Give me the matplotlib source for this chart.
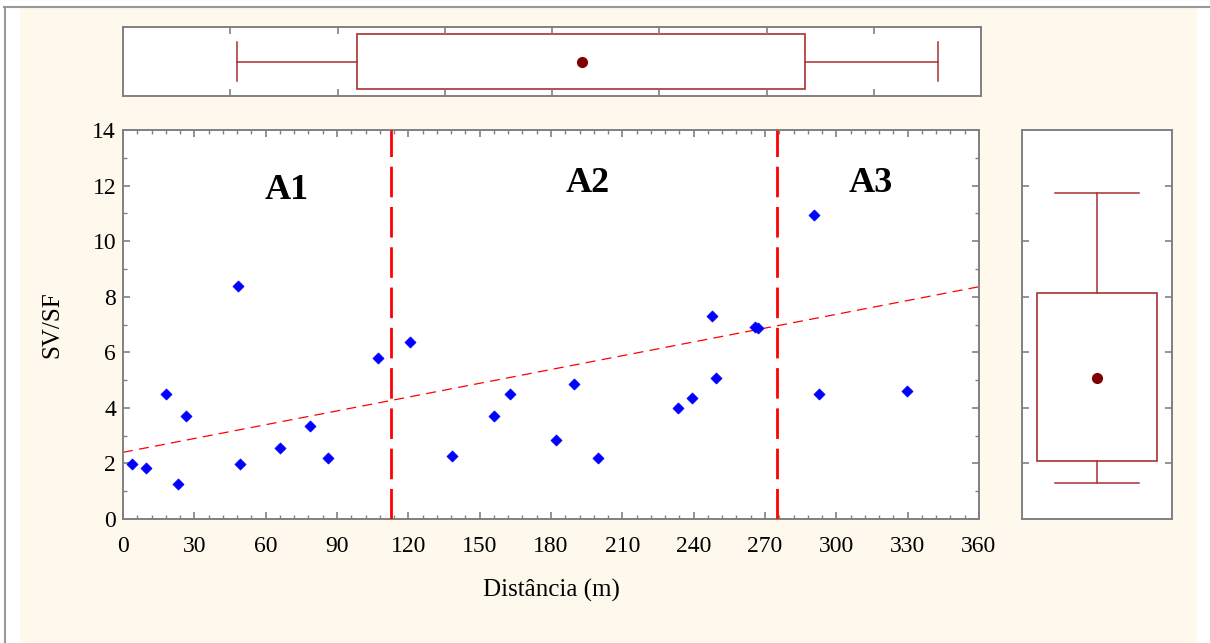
import matplotlib
matplotlib.use("Agg")
import matplotlib.pyplot as plt
from matplotlib.patches import Rectangle
from matplotlib.lines import Line2D
from matplotlib.ticker import MultipleLocator

# ---- data ----
dist = [3.6, 9.5, 18.0, 23.0, 26.4, 48.3, 49.1, 66.0, 78.6, 86.2, 107.2,
        120.7, 138.4, 156.1, 162.8, 182.2, 189.8, 199.9, 233.6, 239.5,
        247.9, 249.6, 265.8, 267.2, 290.8, 292.5, 329.6]
svsf = [1.99, 1.85, 4.51, 1.27, 3.72, 8.40, 1.99, 2.57, 3.36, 2.21, 5.80,
        6.38, 2.28, 3.72, 4.51, 2.85, 4.87, 2.21, 4.01, 4.37,
        7.32, 5.08, 6.90, 6.86, 10.93, 4.51, 4.59]
trend_x = [0, 360]
trend_y = [2.40, 8.36]
boundaries = [112.5, 275.0]
zone_labels = ["A1", "A2", "A3"]
zone_label_x = [69, 195.4, 314.5]
zone_label_y = [11.84, 12.09, 12.09]
# box summaries: (low whisker, box low, mean, box high, high whisker)
box_x = [48.0, 98.1, 192.4, 286.3, 341.9]
box_y = [1.28, 2.08, 5.06, 8.14, 11.72]
xticks = list(range(0, 361, 30))
yticks = list(range(0, 15, 2))

W, H = 1210, 643
fig = plt.figure(figsize=(W / 100, H / 100), dpi=100, facecolor="white")
serif = ["Liberation Serif", "DejaVu Serif"]

# background panel + border
fig.patches.append(Rectangle((20 / W, 0), (1197 - 20) / W, (H - 8) / H,
                             transform=fig.transFigure, facecolor="#FEF9EC",
                             edgecolor="none", zorder=-10))
fig.lines.append(Line2D([4 / W, 1], [1 - 7 / H, 1 - 7 / H], transform=fig.transFigure,
                        color="#999999", lw=1.5, zorder=-9))
fig.lines.append(Line2D([5 / W, 5 / W], [0, 1 - 7 / H], transform=fig.transFigure,
                        color="#999999", lw=1.5, zorder=-9))

spine_col = "#808080"
box_col = "#A83232"
mean_col = "#800000"


def style_spines(ax):
    for s in ax.spines.values():
        s.set_color(spine_col)
        s.set_linewidth(1.4)


# ---- main axes ----
ax = fig.add_axes([123 / W, (H - 519) / H, (979 - 123) / W, (519 - 130) / H])
ax.set_facecolor("white")
style_spines(ax)
ax.set_xlim(0, 360)
ax.set_ylim(0, 14)
ax.set_xticks(xticks)
ax.set_yticks(yticks)
ax.xaxis.set_minor_locator(MultipleLocator(6))
ax.yaxis.set_minor_locator(MultipleLocator(1))
ax.tick_params(which="both", direction="in", top=True, right=True, color=spine_col)
ax.tick_params(which="major", length=5, width=1.2, labelsize=17)
ax.tick_params(axis="x", which="major", pad=12)
ax.tick_params(axis="y", which="major", pad=5)
ax.tick_params(which="minor", length=3, width=1.0)
for lab in ax.get_xticklabels() + ax.get_yticklabels():
    lab.set_family(serif)

ax.plot(trend_x, trend_y, color="red", lw=0.9, dashes=(8, 5), zorder=2)
for b in boundaries:
    ax.axvline(b, color="red", lw=2.0, dashes=(11, 3.5), zorder=3)
ax.scatter(dist, svsf, marker="D", s=32, color="blue", edgecolors="blue",
           linewidths=0.5, zorder=4)
for t, x, y in zip(zone_labels, zone_label_x, zone_label_y):
    ax.text(x, y, t, ha="center", va="center", fontsize=26, fontweight="bold",
            family=serif)
ax.set_xlabel("Distância (m)", fontsize=18, family=serif, labelpad=16)
ax.set_ylabel("SV/SF", fontsize=18, family=serif, labelpad=21)

# ---- top box plot ----
axt = fig.add_axes([123 / W, (H - 96) / H, (981 - 123) / W, (96 - 27) / H])
axt.set_facecolor("white")
style_spines(axt)
axt.set_xlim(0, 360)
axt.set_ylim(0, 1)
axt.set_xticks(list(range(45, 360, 45)))
axt.set_yticks([])
axt.tick_params(axis="x", direction="in", top=True, bottom=True, length=5, width=1.2,
                color=spine_col, labelbottom=False)
lo, q1, mn, q3, hi = box_x
axt.add_patch(Rectangle((q1, 0.1), q3 - q1, 0.8, facecolor="none", edgecolor=box_col, lw=1.2))
axt.plot([lo, q1], [0.5, 0.5], color=box_col, lw=1.1)
axt.plot([q3, hi], [0.5, 0.5], color=box_col, lw=1.1)
axt.plot([lo, lo], [0.22, 0.78], color=box_col, lw=1.1)
axt.plot([hi, hi], [0.22, 0.78], color=box_col, lw=1.1)
axt.plot([mn], [0.5], "o", color=mean_col, ms=7)

# ---- right box plot ----
axr = fig.add_axes([1022 / W, (H - 519) / H, (1172 - 1022) / W, (519 - 130) / H])
axr.set_facecolor("white")
style_spines(axr)
axr.set_ylim(0, 14)
axr.set_xlim(0, 1)
axr.set_xticks([])
axr.set_yticks(list(range(2, 13, 2)))
axr.tick_params(axis="y", direction="in", left=True, right=True, length=5, width=1.2,
                color=spine_col, labelleft=False)
lo, q1, mn, q3, hi = box_y
axr.add_patch(Rectangle((0.1, q1), 0.8, q3 - q1, facecolor="none", edgecolor=box_col, lw=1.2))
axr.plot([0.5, 0.5], [lo, q1], color=box_col, lw=1.1)
axr.plot([0.5, 0.5], [q3, hi], color=box_col, lw=1.1)
axr.plot([0.22, 0.78], [lo, lo], color=box_col, lw=1.1)
axr.plot([0.22, 0.78], [hi, hi], color=box_col, lw=1.1)
axr.plot([0.5], [mn], "o", color=mean_col, ms=7)

fig.savefig("out.png", dpi=100, facecolor=fig.get_facecolor())
